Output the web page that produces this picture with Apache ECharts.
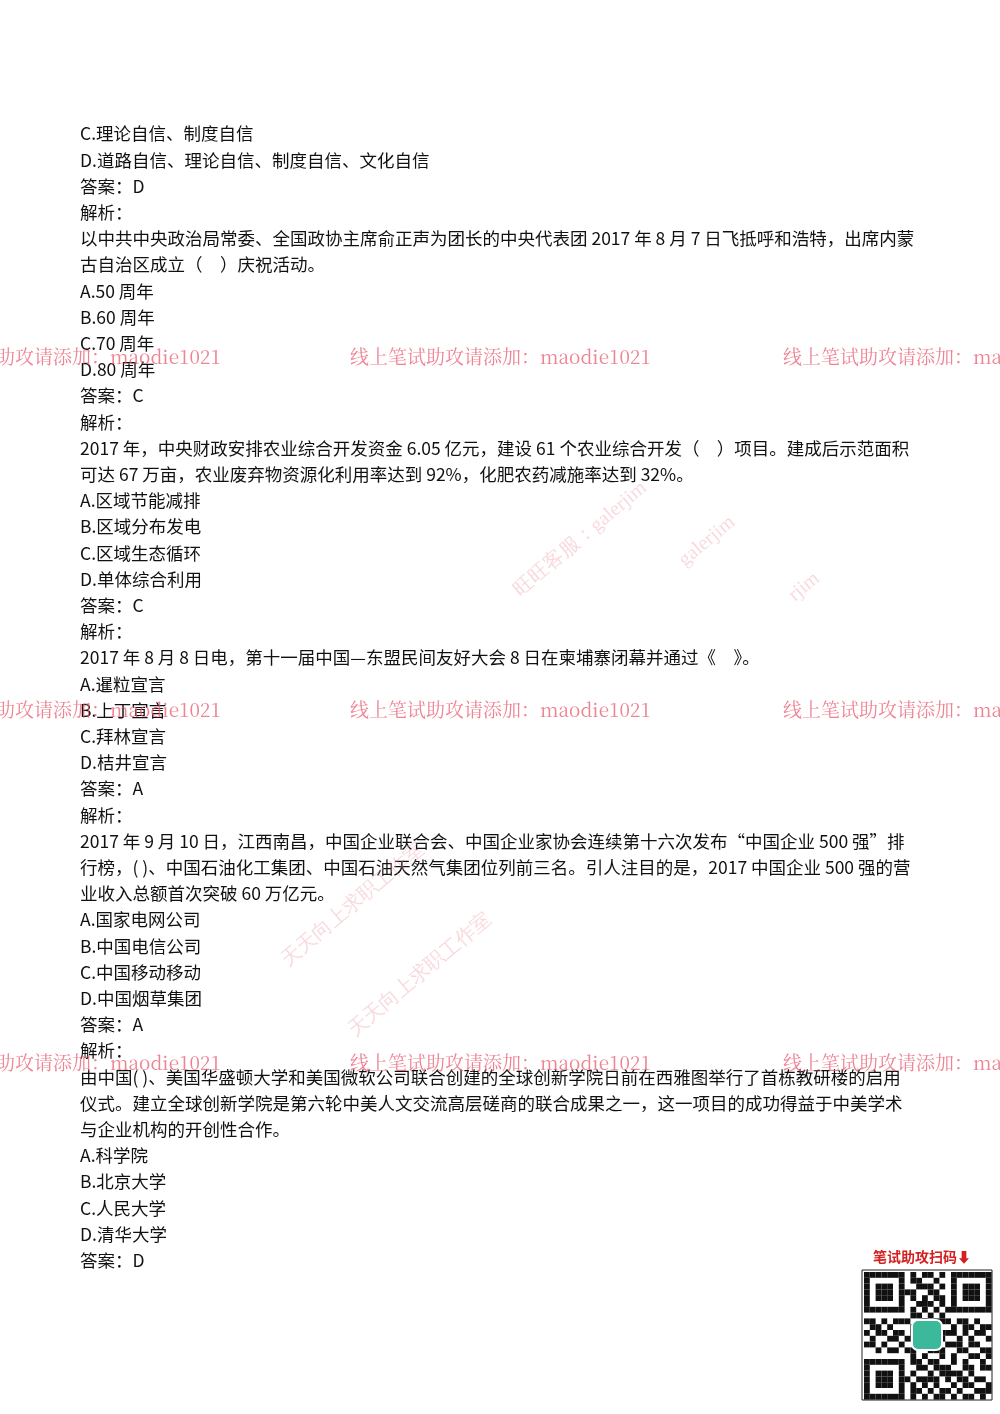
<!DOCTYPE html>
<html><head><meta charset="utf-8">
<script src="https://cdn.jsdelivr.net/npm/echarts@6/dist/echarts.min.js"></script>
<style>html,body{margin:0;padding:0;background:#fff}#c{width:1000px;height:1414px}</style>
</head><body><div id="c"></div>
<script>
const lines = [
"C.理论自信、制度自信",
"D.道路自信、理论自信、制度自信、文化自信",
"答案：D",
"解析：",
"以中共中央政治局常委、全国政协主席俞正声为团长的中央代表团 2017 年 8 月 7 日飞抵呼和浩特，出席内蒙",
"古自治区成立（　）庆祝活动。",
"A.50 周年",
"B.60 周年",
"C.70 周年",
"D.80 周年",
"答案：C",
"解析：",
"2017 年，中央财政安排农业综合开发资金 6.05 亿元，建设 61 个农业综合开发（　）项目。建成后示范面积",
"可达 67 万亩，农业废弃物资源化利用率达到 92%，化肥农药减施率达到 32%。",
"A.区域节能减排",
"B.区域分布发电",
"C.区域生态循环",
"D.单体综合利用",
"答案：C",
"解析：",
"2017 年 8 月 8 日电，第十一届中国—东盟民间友好大会 8 日在柬埔寨闭幕并通过《　》。",
"A.暹粒宣言",
"B.上丁宣言",
"C.拜林宣言",
"D.桔井宣言",
"答案：A",
"解析：",
"2017 年 9 月 10 日，江西南昌，中国企业联合会、中国企业家协会连续第十六次发布“中国企业 500 强”排",
"行榜，( )、中国石油化工集团、中国石油天然气集团位列前三名。引人注目的是，2017 中国企业 500 强的营",
"业收入总额首次突破 60 万亿元。",
"A.国家电网公司",
"B.中国电信公司",
"C.中国移动移动",
"D.中国烟草集团",
"答案：A",
"解析：",
"由中国( )、美国华盛顿大学和美国微软公司联合创建的全球创新学院日前在西雅图举行了首栋教研楼的启用",
"仪式。建立全球创新学院是第六轮中美人文交流高层磋商的联合成果之一，这一项目的成功得益于中美学术",
"与企业机构的开创性合作。",
"A.科学院",
"B.北京大学",
"C.人民大学",
"D.清华大学",
"答案：D"
];
const watermarkText = "线上笔试助攻请添加：maodie1021";
const watermarkRows = [357, 710, 1063];
const watermarkCols = [-80, 350, 783];
const faint = [
 {t:"旺旺客服：galerjim", x:510, y:585, r:40},
 {t:"galerjim", x:675, y:555, r:40},
 {t:"rjim", x:785, y:590, r:40},
 {t:"天天向上求职工作室", x:278, y:955, r:40},
 {t:"天天向上求职工作室", x:345, y:1025, r:40}
];
const chart = echarts.init(document.getElementById('c'));
const g = [];
lines.forEach((s,i)=>{
  const y = 134 + i*26.2;
  g.push({type:'text', left:80, top:y-9, style:{text:s, font:'17.5px "Noto Sans CJK SC"', fill:'#111'}});
});
watermarkRows.forEach(y=>watermarkCols.forEach(x=>{
  g.push({type:'text', x:x, y:y-10, z:10, style:{text:watermarkText, font:'19px "Noto Serif CJK SC", serif', fill:'rgba(232,90,110,0.75)'}});
}));
faint.forEach(f=>g.push({type:'text', x:f.x, y:f.y, rotation:f.r*Math.PI/180, z:5,
  style:{text:f.t, font:'20px serif', fill:'rgba(235,150,160,0.35)'}}));
g.push({type:'text', x:873, y:1250, style:{text:'笔试助攻扫码⬇', font:'bold 14px "Noto Sans CJK SC"', fill:'#d42020'}});
g.push({type:'rect', shape:{x:862,y:1270,width:130,height:130}, style:{fill:'#fff', stroke:'#222', lineWidth:1}});
const qr = ["1111111010110101111111","1000001011001001000001","1011101001110101011101","1011101110011001011101","1011101010101101011101","1000001001110101000001","1111111010101011111111","0000000011010100000000","1101011100101110110100","0110100011011001011011","1011011010000111010110","0100110110111100101001","1101001001100011101100","0010110110011100110011","0000000010100101001101","1111111011011001010010","1000001001101110011011","1011101010010111101000","1011101101111010110110","1011101010101001011001","1000001011010110100111","1111111010101101011010"];
qr.forEach((row,r)=>row.split('').forEach((c,k)=>{ if(c==='1') g.push({type:'rect', shape:{x:864+k*5.8,y:1272+r*5.8,width:5.8,height:5.8}, style:{fill:'#111'}}); }));
g.push({type:'rect', shape:{x:912,y:1320,width:30,height:30,r:6}, z:20, style:{fill:'#3cb89a', stroke:'#fff', lineWidth:2}});
chart.setOption({graphic:g});
</script></body></html>
